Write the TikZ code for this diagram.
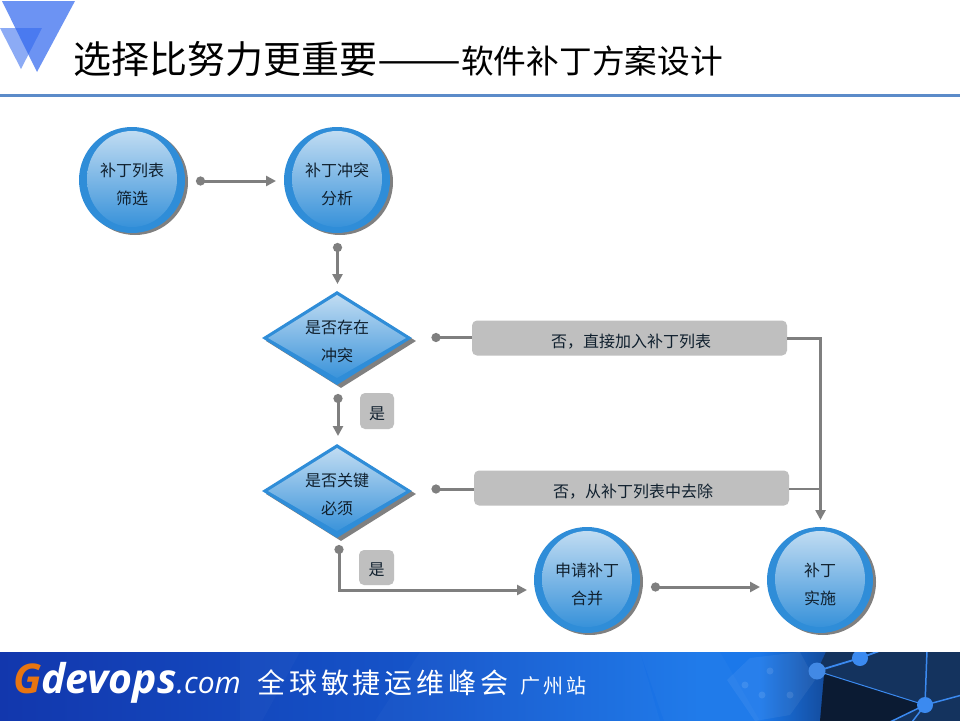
\documentclass[tikz,border=0pt]{standalone}
\usepackage{graphicx}
\usepackage{fontspec}
\setmainfont{Noto Sans CJK SC}
\newfontfamily\logofont{Open Sans}
\usetikzlibrary{shapes.geometric,arrows.meta,shadows}
\definecolor{ring}{HTML}{2F8DD8}
\definecolor{lightfill}{HTML}{C6DFF3}
\definecolor{shadowgray}{HTML}{808080}
\definecolor{tagfill}{HTML}{BFBFBF}
\definecolor{linkgray}{HTML}{7F7F7F}
\definecolor{rule}{HTML}{5B8BC9}
\definecolor{tri}{HTML}{2F66EE}
\definecolor{ink}{HTML}{10202E}
\definecolor{foota}{HTML}{1237AD}
\definecolor{footb}{HTML}{1553C8}
\definecolor{footc}{HTML}{1B78EA}
\definecolor{footd}{HTML}{134A9A}
\definecolor{dark}{HTML}{0B1B33}
\definecolor{panel}{HTML}{14335E}
\definecolor{net}{HTML}{3B8AF0}
\newcommand\ballstrut{\rule{0pt}{22pt}}
\newcommand\gemstrut{\rule{0pt}{20pt}}
\tikzset{
  ball/.style={circle,fill=ring,minimum size=106pt,inner sep=0pt,align=center,text=ink,
    font=\fontsize{16pt}{28pt}\selectfont,
    drop shadow={shadow xshift=3pt,shadow yshift=-2pt,fill=shadowgray,opacity=1},
    path picture={\shade[top color=lightfill,bottom color=ring]
      (path picture bounding box.center) ++(0,-1) ellipse [x radius=45pt,y radius=48pt];}},
  gem/.style={diamond,aspect=1.6,fill=ring,minimum width=150pt,minimum height=94pt,inner sep=0pt,align=center,text=ink,
    font=\fontsize{16pt}{28pt}\selectfont,
    drop shadow={shadow xshift=4pt,shadow yshift=-3pt,fill=shadowgray,opacity=1},
    path picture={\shade[shift={(path picture bounding box.center)},top color=lightfill,bottom color=ring]
      (0,-43) -- (69,0) -- (0,40) -- (-69,0) -- cycle;}},
  tagbox/.style={rectangle,rounded corners=5pt,fill=tagfill,text=ink,inner sep=0pt,font=\fontsize{16pt}{18pt}\selectfont,
    text height=18pt,text depth=2pt},
  widebox/.style={tagbox,minimum width=315pt,minimum height=35pt,text height=20pt,execute at begin node={\hspace*{3pt}}},
  dotstart/.style={shorten <=-4pt},
  link/.style={draw=linkgray,line width=3pt,dotstart,{Circle[length=9pt,width=9pt]}-{Triangle[length=10pt,width=10pt]}},
  deadlink/.style={draw=linkgray,line width=3pt,dotstart,{Circle[length=9pt,width=9pt]}-},
  plainlink/.style={draw=linkgray,line width=3pt},
  facet/.style={fill=white,opacity=.025}
}
\begin{document}
\begin{tikzpicture}[x=1pt,y=-1pt]
\useasboundingbox (0,0) rectangle (960,720);
\fill[white] (0,0) rectangle (960,720);
% logo triangles
\fill[tri,opacity=.55] (0,28) -- (42,28) -- (21,69) -- cycle;
\fill[tri,opacity=.7] (2,1) -- (75,1) -- (37,72) -- cycle;
% title
\node[anchor=west,inner sep=0pt,text=black] (title) at (73,59)
  {\fontsize{38pt}{40pt}\selectfont 选择比努力更重要\scalebox{1.32}[1]{——}\fontsize{32.7pt}{40pt}\selectfont 软件补丁方案设计};
\draw[rule,line width=3pt] (0,95.5) -- (960,95.5);
% flow nodes
\node[ball] (n1) at (132,180) {\ballstrut 补丁列表\\筛选};
\node[ball] (n2) at (337,180) {\ballstrut 补丁冲突\\分析};
\node[gem] (q1) at (337,338) {\gemstrut 是否存在\\冲突};
\node[gem] (q2) at (337,491) {\gemstrut 是否关键\\必须};
\node[ball] (n3) at (587,580) {\ballstrut 申请补丁\\合并};
\node[ball] (n4) at (820,580) {\ballstrut 补丁\\实施};
\node[widebox] (b1) at (629.5,338) {否，直接加入补丁列表};
\node[widebox] (b2) at (631.5,488) {否，从补丁列表中去除};
\node[tagbox,minimum width=34pt,minimum height=36pt] (t1) at (377,411) {是};
\node[tagbox,minimum width=35pt,minimum height=35pt] (t2) at (376.5,567.5) {是};
% connector ends
\coordinate (s1) at (200,181); \coordinate (e1) at (276,181);
\coordinate (s2) at (337.5,247); \coordinate (e2) at (337.5,284);
\coordinate (s3) at (435.5,337.5);
\coordinate (s4) at (338,398); \coordinate (e4) at (338,436);
\coordinate (s5) at (435.5,489);
\coordinate (s6) at (339,549); \coordinate (c6) at (339,590); \coordinate (e6) at (527,590);
\coordinate (s7) at (655,587); \coordinate (e7) at (760,587);
\coordinate (c8) at (820.5,338); \coordinate (e8) at (820.5,520);
\coordinate (c9) at (820.5,489);
\draw[link] (s1) -- (e1);
\draw[link] (s2) -- (e2);
\draw[link] (s4) -- (e4);
\draw[link] (s6) -- (c6) -- (e6);
\draw[link] (s7) -- (e7);
\draw[deadlink] (s3) -- (b1.west |- s3);
\draw[deadlink] (s5) -- (b2.west |- s5);
\draw[plainlink,-{Triangle[length=10pt,width=10pt]}] (b1.east |- c8) -- (c8) -- (e8);
\draw[plainlink,line width=2pt] (b2.east |- c9) -- (c9);
% footer
\begin{scope}
\clip (0,652) rectangle (960,721);
\fill[footc] (0,652) rectangle (960,721);
\shade[left color=foota,right color=footb] (0,652) rectangle (400,721);
\shade[left color=footb,right color=footc] (399.5,652) rectangle (700,721);
\shade[left color=footc,right color=footd] (759.5,652) rectangle (828,721);
\fill[facet] (240,652) -- (300,652) -- (262,721) -- (240,721) -- cycle;
\fill[facet] (375,721) -- (420,652) -- (640,652) -- (660,721) -- cycle;
\fill[facet] (640,652) -- (720,652) -- (760,721) -- (664,721) -- cycle;
\fill[white,opacity=.06] (727,680) -- (750,658) -- (800,652) -- (815,680) -- (790,715) -- (755,721) -- cycle;
\fill[white,opacity=.1] (745,685) circle (3.5) (770,671) circle (3.5) (762,695) circle (3.5) (790,695) circle (3.5);
\fill[dark] (826,652) -- (960,652) -- (960,721) -- (820,721) -- cycle;
\fill[panel] (826,652) -- (960,652) -- (960,695) -- (925,705) -- (817,671) -- cycle;
\fill[panel] (925,705) -- (960,695) -- (960,721) -- (892,721) -- cycle;
\draw[net,line width=1pt] (817,671) -- (925,705);
\draw[net,line width=1.8pt] (817,671) -- (860,658) -- (882,650);
\draw[net,line width=1.5pt] (925,705) -- (927,650) (925,705) -- (962,695) (925,705) -- (890,722) (925,705) -- (912,722);
\fill[net!90!gray] (817,671) circle (8.5);
\fill[net] (860,658) circle (8) (925,705) circle (8);
\end{scope}
\node[anchor=west,inner sep=0pt,text=white] (logo) at (13,683)
  {\logofont\fontsize{41pt}{44pt}\selectfont\bfseries\itshape {\color[HTML]{E87511}G}devops\fontsize{30pt}{44pt}\selectfont\mdseries.com};
\node[anchor=west,inner sep=0pt,text=white] (slogan) at (257,683)
  {\addfontfeature{LetterSpace=14}\fontsize{28pt}{32pt}\selectfont 全球敏捷运维峰会};
\node[anchor=west,inner sep=0pt,text=white] (city) at (520,686)
  {\addfontfeature{LetterSpace=16}\fontsize{20pt}{24pt}\selectfont 广州站};
\end{tikzpicture}
\end{document}
